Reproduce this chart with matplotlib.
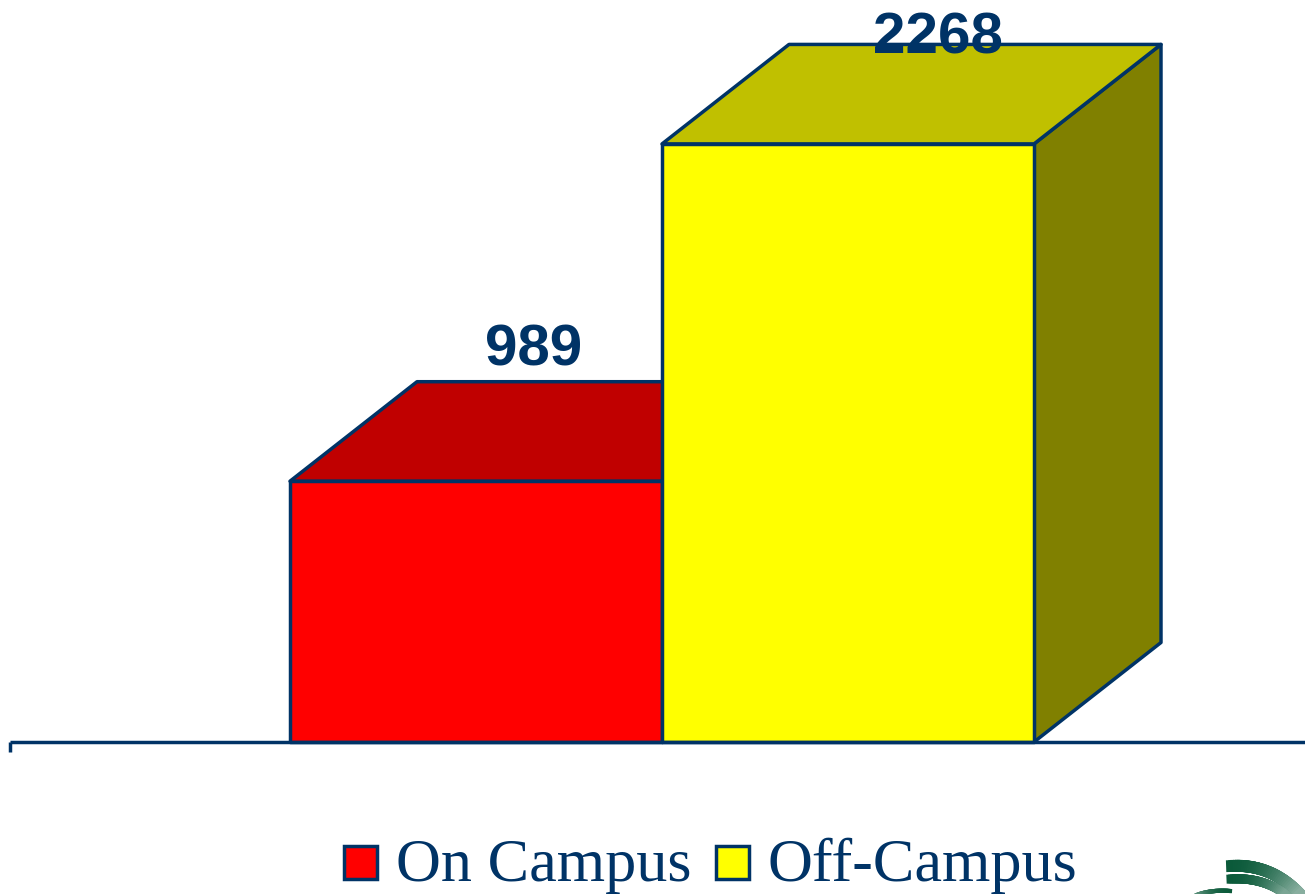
import numpy as np
import matplotlib
matplotlib.use('Agg')
import matplotlib.pyplot as plt
from matplotlib.patches import Polygon, Rectangle
from matplotlib.collections import LineCollection

categories = ['On Campus', 'Off-Campus']
values = [989, 2268]
front_colors = ['#FF0000', '#FFFF00']
top_colors = ['#C00000', '#C0C000']
side_colors = ['#800000', '#808000']
navy = '#003366'

W, H = 1305, 894
fig = plt.figure(figsize=(W / 100, H / 100), dpi=100, facecolor='white')
ax = fig.add_axes([0, 0, 1, 1])
ax.set_xlim(-476 / 372, (W - 476) / 372)
ax.set_ylim(-152 / 0.2637, 742 / 0.2637)
ax.axis('off')

# depth of the 3d box in data units
dx = 127 / 372
dy = 99.5 / 0.2637
lw = 2.5

for i, v in enumerate(values):
    l, r = i - 0.5, i + 0.5
    side = [(r, 0), (r + dx, dy), (r + dx, v + dy), (r, v)]
    top = [(l, v), (l + dx, v + dy), (r + dx, v + dy), (r, v)]
    front = [(l, 0), (r, 0), (r, v), (l, v)]
    z = 2 + i
    ax.add_patch(Polygon(side, fc=side_colors[i], ec=navy, lw=lw, zorder=z, joinstyle='round'))
    ax.add_patch(Polygon(top, fc=top_colors[i], ec=navy, lw=lw, zorder=z, joinstyle='round'))
    ax.add_patch(Polygon(front, fc=front_colors[i], ec=navy, lw=lw, zorder=z, joinstyle='round'))

# baseline with the single tick on the left
ax.plot([(10 - 476) / 372, ax.get_xlim()[1]], [0, 0], color=navy, lw=lw, zorder=5, solid_capstyle='butt')
ax.plot([(10 - 476) / 372] * 2, [0, -10 / 0.2637], color=navy, lw=lw, zorder=5, solid_capstyle='butt')

# value labels
label_pos = [(534, 365), (938, 53)]
for v, (px, py) in zip(values, label_pos):
    ax.text((px - 476) / 372, (742 - py) / 0.2637, str(v), family='Liberation Sans', fontweight='bold',
            fontsize=42, color=navy, ha='center', va='baseline', zorder=10)

# legend
overlay = fig.add_axes([0, 0, 1, 1], facecolor='none')
overlay.set_xlim(0, W)
overlay.set_ylim(H, 0)
overlay.axis('off')
for cat, col, bx, tx in zip(categories, front_colors, [344, 716], [396, 768]):
    overlay.add_patch(Rectangle((bx, 846), 33, 33, fc=col, ec=navy, lw=2.5))
    overlay.text(tx, 881, cat, family='Liberation Serif', fontsize=44.8, color=navy, ha='left', va='baseline')


# corner logo, cut off by the figure edge
def arc(p0, p1, p2, width):
    t = np.linspace(0, 1, 40)
    x = (1 - t) ** 2 * p0[0] + 2 * t * (1 - t) * p1[0] + t ** 2 * p2[0]
    y = (1 - t) ** 2 * p0[1] + 2 * t * (1 - t) * p1[1] + t ** 2 * p2[1]
    pts = np.column_stack([x, y]).reshape(-1, 1, 2)
    segs = np.concatenate([pts[:-1], pts[1:]], axis=1)
    start = np.array(matplotlib.colors.to_rgb('#0B5A3A'))
    cols = [start + (1 - start) * min(1, s ** 2) * 0.6 for s in t[:-1]]
    overlay.add_collection(LineCollection(segs, colors=cols, linewidths=width, capstyle='projecting'))


arc((1232, 866), (1275, 864), (1305, 900), 8.5)
arc((1231, 879), (1268, 877), (1292, 900), 6.5)
arc((1230, 891), (1205, 889), (1186, 900), 3)

fig.savefig('out.png', dpi=100)
